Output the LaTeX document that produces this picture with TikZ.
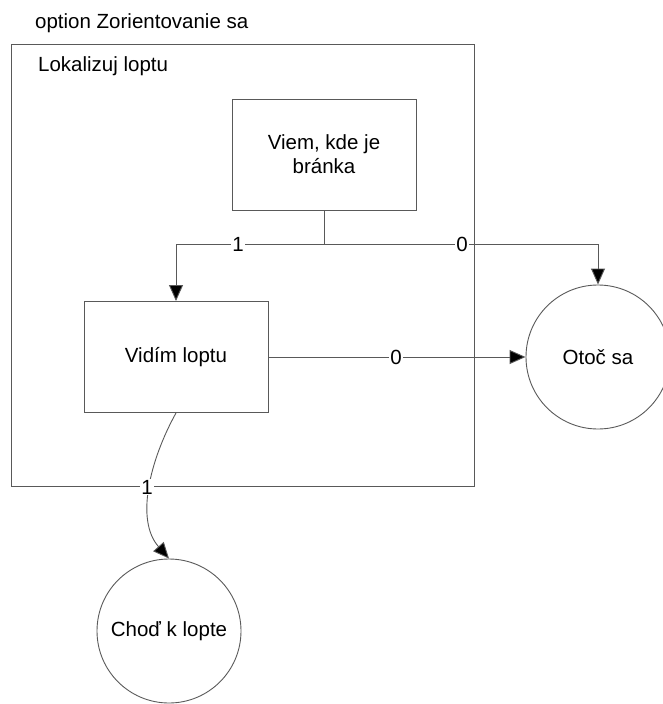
\documentclass[tikz,border=0pt]{standalone}
\usepackage{fontspec}
\setmainfont{Liberation Sans}
\usetikzlibrary{arrows.meta}
\begin{document}
\begin{tikzpicture}[x=1pt,y=-1pt,
  font=\fontsize{20.5}{24}\selectfont,
  ln/.style={draw=black!65,line width=0.9pt},
  arr/.style={ln,-{Triangle[length=16pt,width=14pt,fill=black]}},
  boxnode/.style={ln,rectangle,minimum width=184pt,minimum height=111pt,inner sep=0pt,align=center},
  circnode/.style={ln,circle,minimum size=144pt,inner sep=0pt},
  lbl/.style={fill=white,inner sep=1pt,text=black}]
\useasboundingbox (0,0) rectangle (662,704);
\node[anchor=base west,inner sep=0pt] (title) at (35,28) {option Zorientovanie sa};
\draw[ln] (11,44) rectangle (474,486);
\node[anchor=base west,inner sep=0pt] (grp) at (38,71) {Lokalizuj loptu};
\node[boxnode] (viem) at (324,154.5) {Viem, kde je\\bránka};
\node[boxnode] (vidim) at (176,357) {Vidím loptu};
\node[circnode] (otoc) at (598,357) {Otoč sa};
\node[circnode] (chod) at (169,631) {Choď k lopte};
\coordinate (j) at (324,244);
\draw[ln] (viem.south) -- (j);
\draw[arr] (j) -| (vidim.north);
\draw[arr] (j) -| (otoc.north);
\draw[arr] (vidim.east) -- (otoc.west);
\draw[arr] (vidim.south) .. controls (150,460) and (135,520) .. (chod.north);
\node[lbl] (l1) at (238,244) {1};
\node[lbl] (l2) at (462,244) {0};
\node[lbl] (l3) at (396,357) {0};
\node[lbl] (l4) at (147,487) {1};
\end{tikzpicture}
\end{document}
